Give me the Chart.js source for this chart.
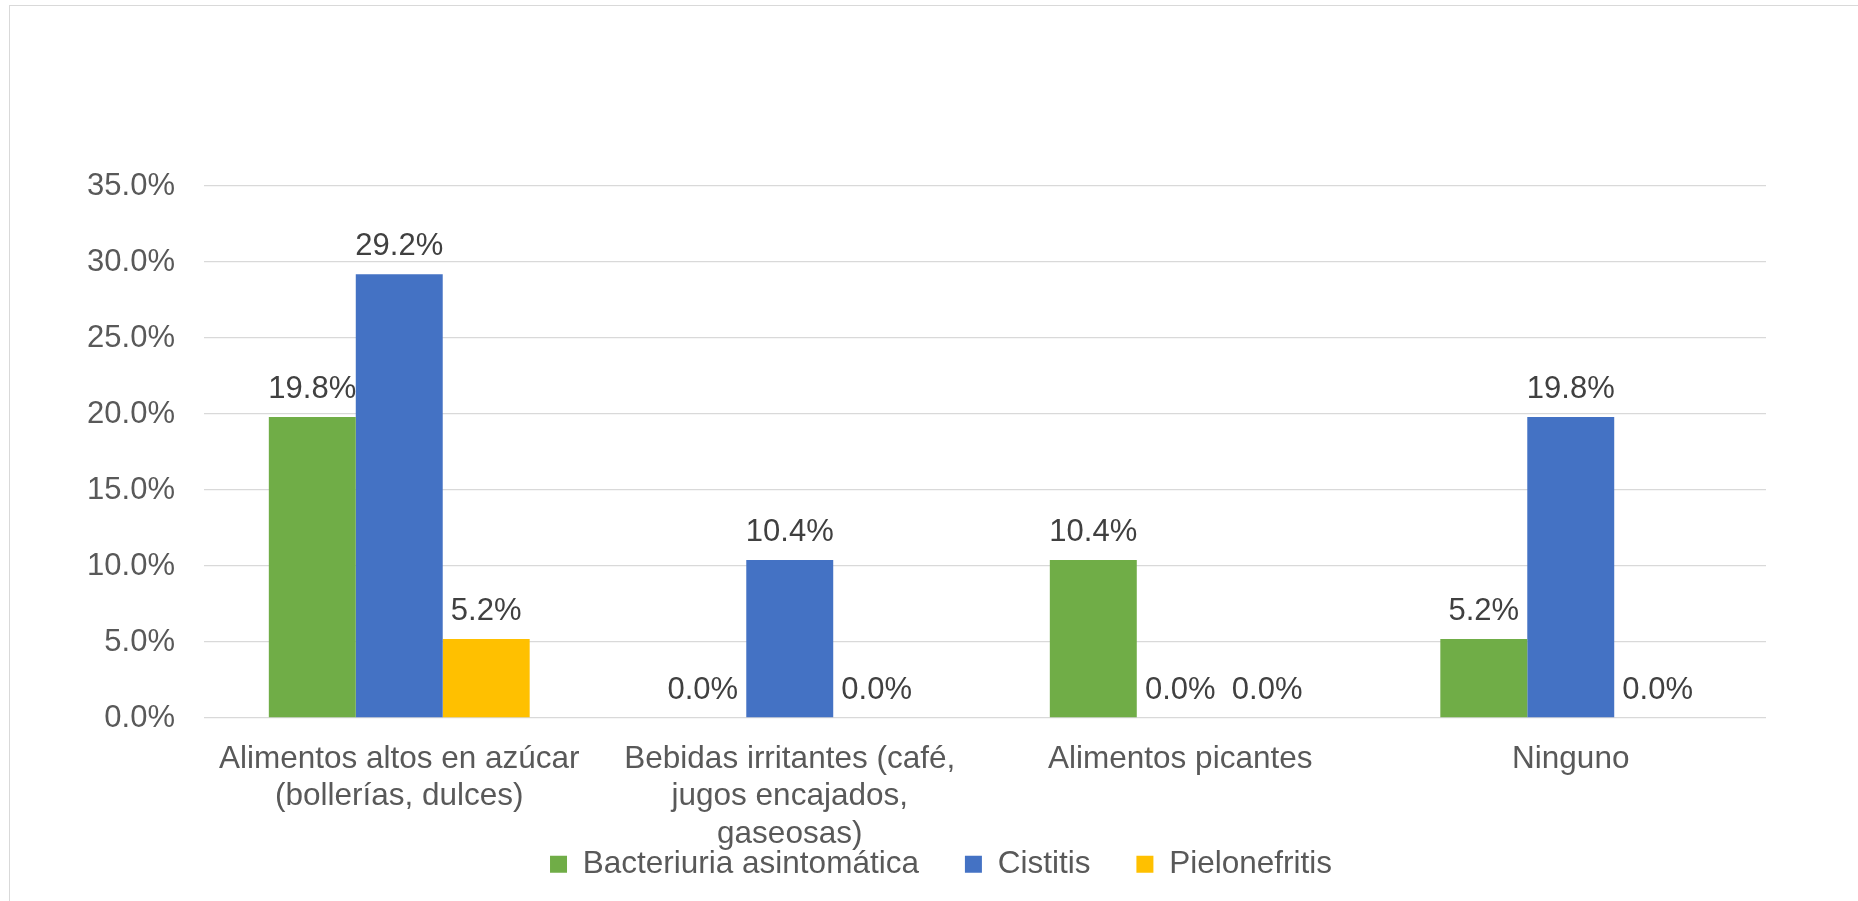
<!DOCTYPE html>
<html lang="es">
<head>
<meta charset="utf-8">
<title>Alimentos e infección urinaria</title>
<script src="https://cdn.jsdelivr.net/npm/chart.js@4.4.1/dist/chart.umd.min.js"></script>
<style>
    html, body { margin: 0; padding: 0; background: #fff; overflow: hidden; }
    #wrap { position: relative; width: 1858px; height: 901px; }
    #frame { position: absolute; left: 9px; top: 5px; width: 2000px; height: 1000px; border: 1px solid #d9d9d9; }
    #chart { position: absolute; left: 0; top: 0; }
</style>
</head>
<body>
<div id="wrap">
    <div id="frame"></div>
    <canvas id="chart" width="1858" height="901"></canvas>
</div>
<script>
const categories = [
    ['Alimentos altos en azúcar', '(bollerías, dulces)'],
    ['Bebidas irritantes (café,', 'jugos encajados,', 'gaseosas)'],
    'Alimentos picantes',
    'Ninguno'
];
const seriesNames = ['Bacteriuria asintomática', 'Cistitis', 'Pielonefritis'];
const bacteriuria = [19.8, 0.0, 10.4, 5.2];
const cistitis = [29.2, 10.4, 0.0, 19.8];
const pielonefritis = [5.2, 0.0, 0.0, 0.0];
const yTicks = [0, 5, 10, 15, 20, 25, 30, 35];

const FONT = '"Liberation Sans", Arial, sans-serif';
const colors = ['#70ad47', '#4472c4', '#ffc000'];

const pct = v => v.toFixed(1) + '%';

// value labels above each bar
const barLabels = {
    id: 'barLabels',
    afterDatasetsDraw(chart) {
        const ctx = chart.ctx;
        ctx.save();
        ctx.font = '31px ' + FONT;
        ctx.fillStyle = '#404040';
        ctx.textAlign = 'center';
        ctx.textBaseline = 'alphabetic';
        chart.data.datasets.forEach((ds, i) => {
            chart.getDatasetMeta(i).data.forEach((bar, j) => {
                ctx.fillText(pct(ds.data[j]), bar.x, bar.y - 19);
            });
        });
        ctx.restore();
    }
};

// tick labels may run outside the (fixed size) axis boxes
const noLabelClip = scale => { scale._computeLabelArea = () => undefined; };

const ctx = document.getElementById('chart').getContext('2d');
const chart = new Chart(ctx, {
    type: 'bar',
    data: {
        labels: categories,
        datasets: [
            { label: seriesNames[0], data: bacteriuria, backgroundColor: colors[0] },
            { label: seriesNames[1], data: cistitis, backgroundColor: colors[1] },
            { label: seriesNames[2], data: pielonefritis, backgroundColor: colors[2] }
        ]
    },
    options: {
        responsive: false,
        animation: false,
        layout: { padding: { left: 116, right: 92, top: 186, bottom: 11 } },
        datasets: {
            bar: { categoryPercentage: 0.668, barPercentage: 1, borderWidth: 0 }
        },
        scales: {
            x: {
                grid: { display: false },
                border: { display: false },
                ticks: {
                    color: '#595959',
                    font: { family: FONT, size: 31.5 },
                    padding: 14,
                    maxRotation: 0,
                    autoSkip: false
                },
                afterFit: scale => { scale.height = 84.5; noLabelClip(scale); }
            },
            y: {
                min: 0,
                max: 35,
                afterBuildTicks: scale => { scale.ticks = yTicks.map(v => ({ value: v })); },
                grid: { color: '#d9d9d9', lineWidth: 1.3, drawTicks: false },
                border: { display: false },
                ticks: {
                    color: '#595959',
                    font: { family: FONT, size: 31 },
                    padding: 29,
                    callback: v => pct(v)
                },
                afterFit: scale => { scale.width = 88; noLabelClip(scale); }
            }
        },
        plugins: {
            tooltip: { enabled: false },
            legend: {
                position: 'bottom',
                labels: {
                    color: '#595959',
                    font: { family: FONT, size: 31.5 },
                    boxWidth: 17,
                    boxHeight: 17,
                    padding: 46
                }
            }
        }
    },
    plugins: [barLabels]
});
</script>
</body>
</html>
